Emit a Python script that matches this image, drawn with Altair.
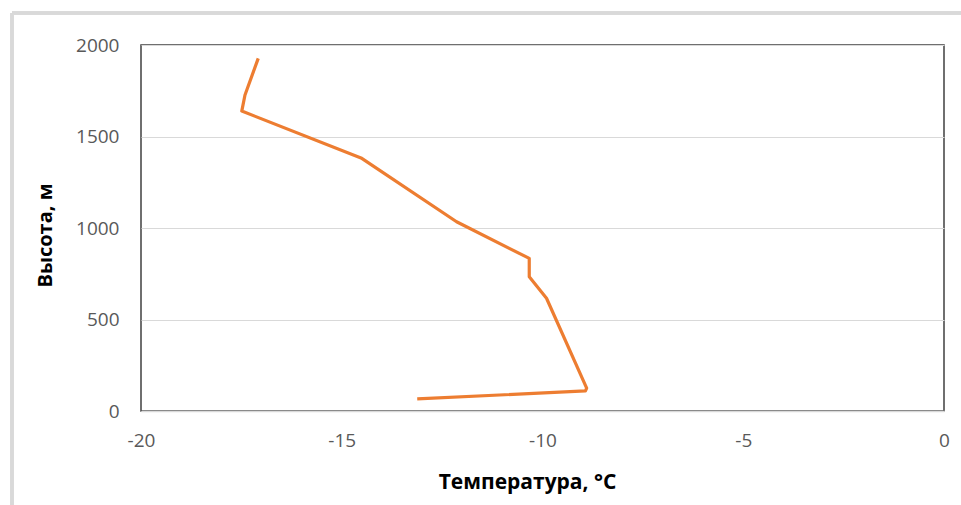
import altair as alt
import pandas as pd

# Temperature profile (°C) vs height (m)
temperature = [-17.08, -17.41, -17.49, -14.52, -12.14, -10.33, -10.33, -9.90, -8.90, -8.93, -13.12]
height = [1927, 1727, 1639, 1383, 1034, 834, 734, 616, 125, 110, 66]

x_ticks = [-20, -15, -10, -5, 0]
y_ticks = [0, 500, 1000, 1500, 2000]

df = pd.DataFrame({"t": temperature, "h": height, "i": list(range(len(height)))})

FONT = "Open Sans"
GRAY = "#595959"
GRID = "#d9d9d9"

line = alt.Chart(df).mark_line(color="#ED7D31", strokeWidth=3.2, strokeJoin="round").encode(
    x=alt.X("t:Q",
            scale=alt.Scale(domain=[-20, 0], nice=False, zero=False),
            axis=alt.Axis(values=x_ticks, title="Температура, °С", grid=False, ticks=False,
                          domain=True, domainColor=GRID, domainWidth=1.5,
                          labelExpr="'' + datum.value", labelFlush=False,
                          labelFont=FONT, labelFontSize=19, labelColor=GRAY, labelPadding=20,
                          titleFont=FONT, titleFontSize=21, titleFontWeight="bold", titleColor="#000000",
                          titleX=386, titleY=71, titleBaseline="middle", titleAlign="center",
                          zindex=1)),
    y=alt.Y("h:Q",
            scale=alt.Scale(domain=[0, 2000], nice=False),
            axis=alt.Axis(values=y_ticks, title="Высота, м", grid=True, gridColor=GRID, gridWidth=1,
                          ticks=False, domain=False,
                          labelExpr="'' + datum.value", labelFlush=False,
                          labelFont=FONT, labelFontSize=19, labelColor=GRAY, labelPadding=22,
                          titleFont=FONT, titleFontSize=20, titleFontWeight="bold", titleColor="#000000",
                          titleX=-96, titleY=190, titleBaseline="middle", titleAlign="center")),
    order="i:Q",
)

frame_v = alt.Chart(df).mark_rule(color=GRID, strokeWidth=3).encode(
    x=alt.value(-129), y=alt.value(-32), y2=alt.value(460))
frame_h = alt.Chart(df).mark_rule(color=GRID, strokeWidth=3).encode(
    y=alt.value(-32), x=alt.value(-129), x2=alt.value(820))

chart = alt.layer(frame_v, frame_h, line).properties(
    width=803, height=366,
    padding={"left": 141, "top": 45, "right": 17, "bottom": 94},
    autosize="none",
    background="white",
).configure_view(stroke="#404040", strokeWidth=1.5)

chart.save("out.html", embed_options={"renderer": "svg", "actions": False})
